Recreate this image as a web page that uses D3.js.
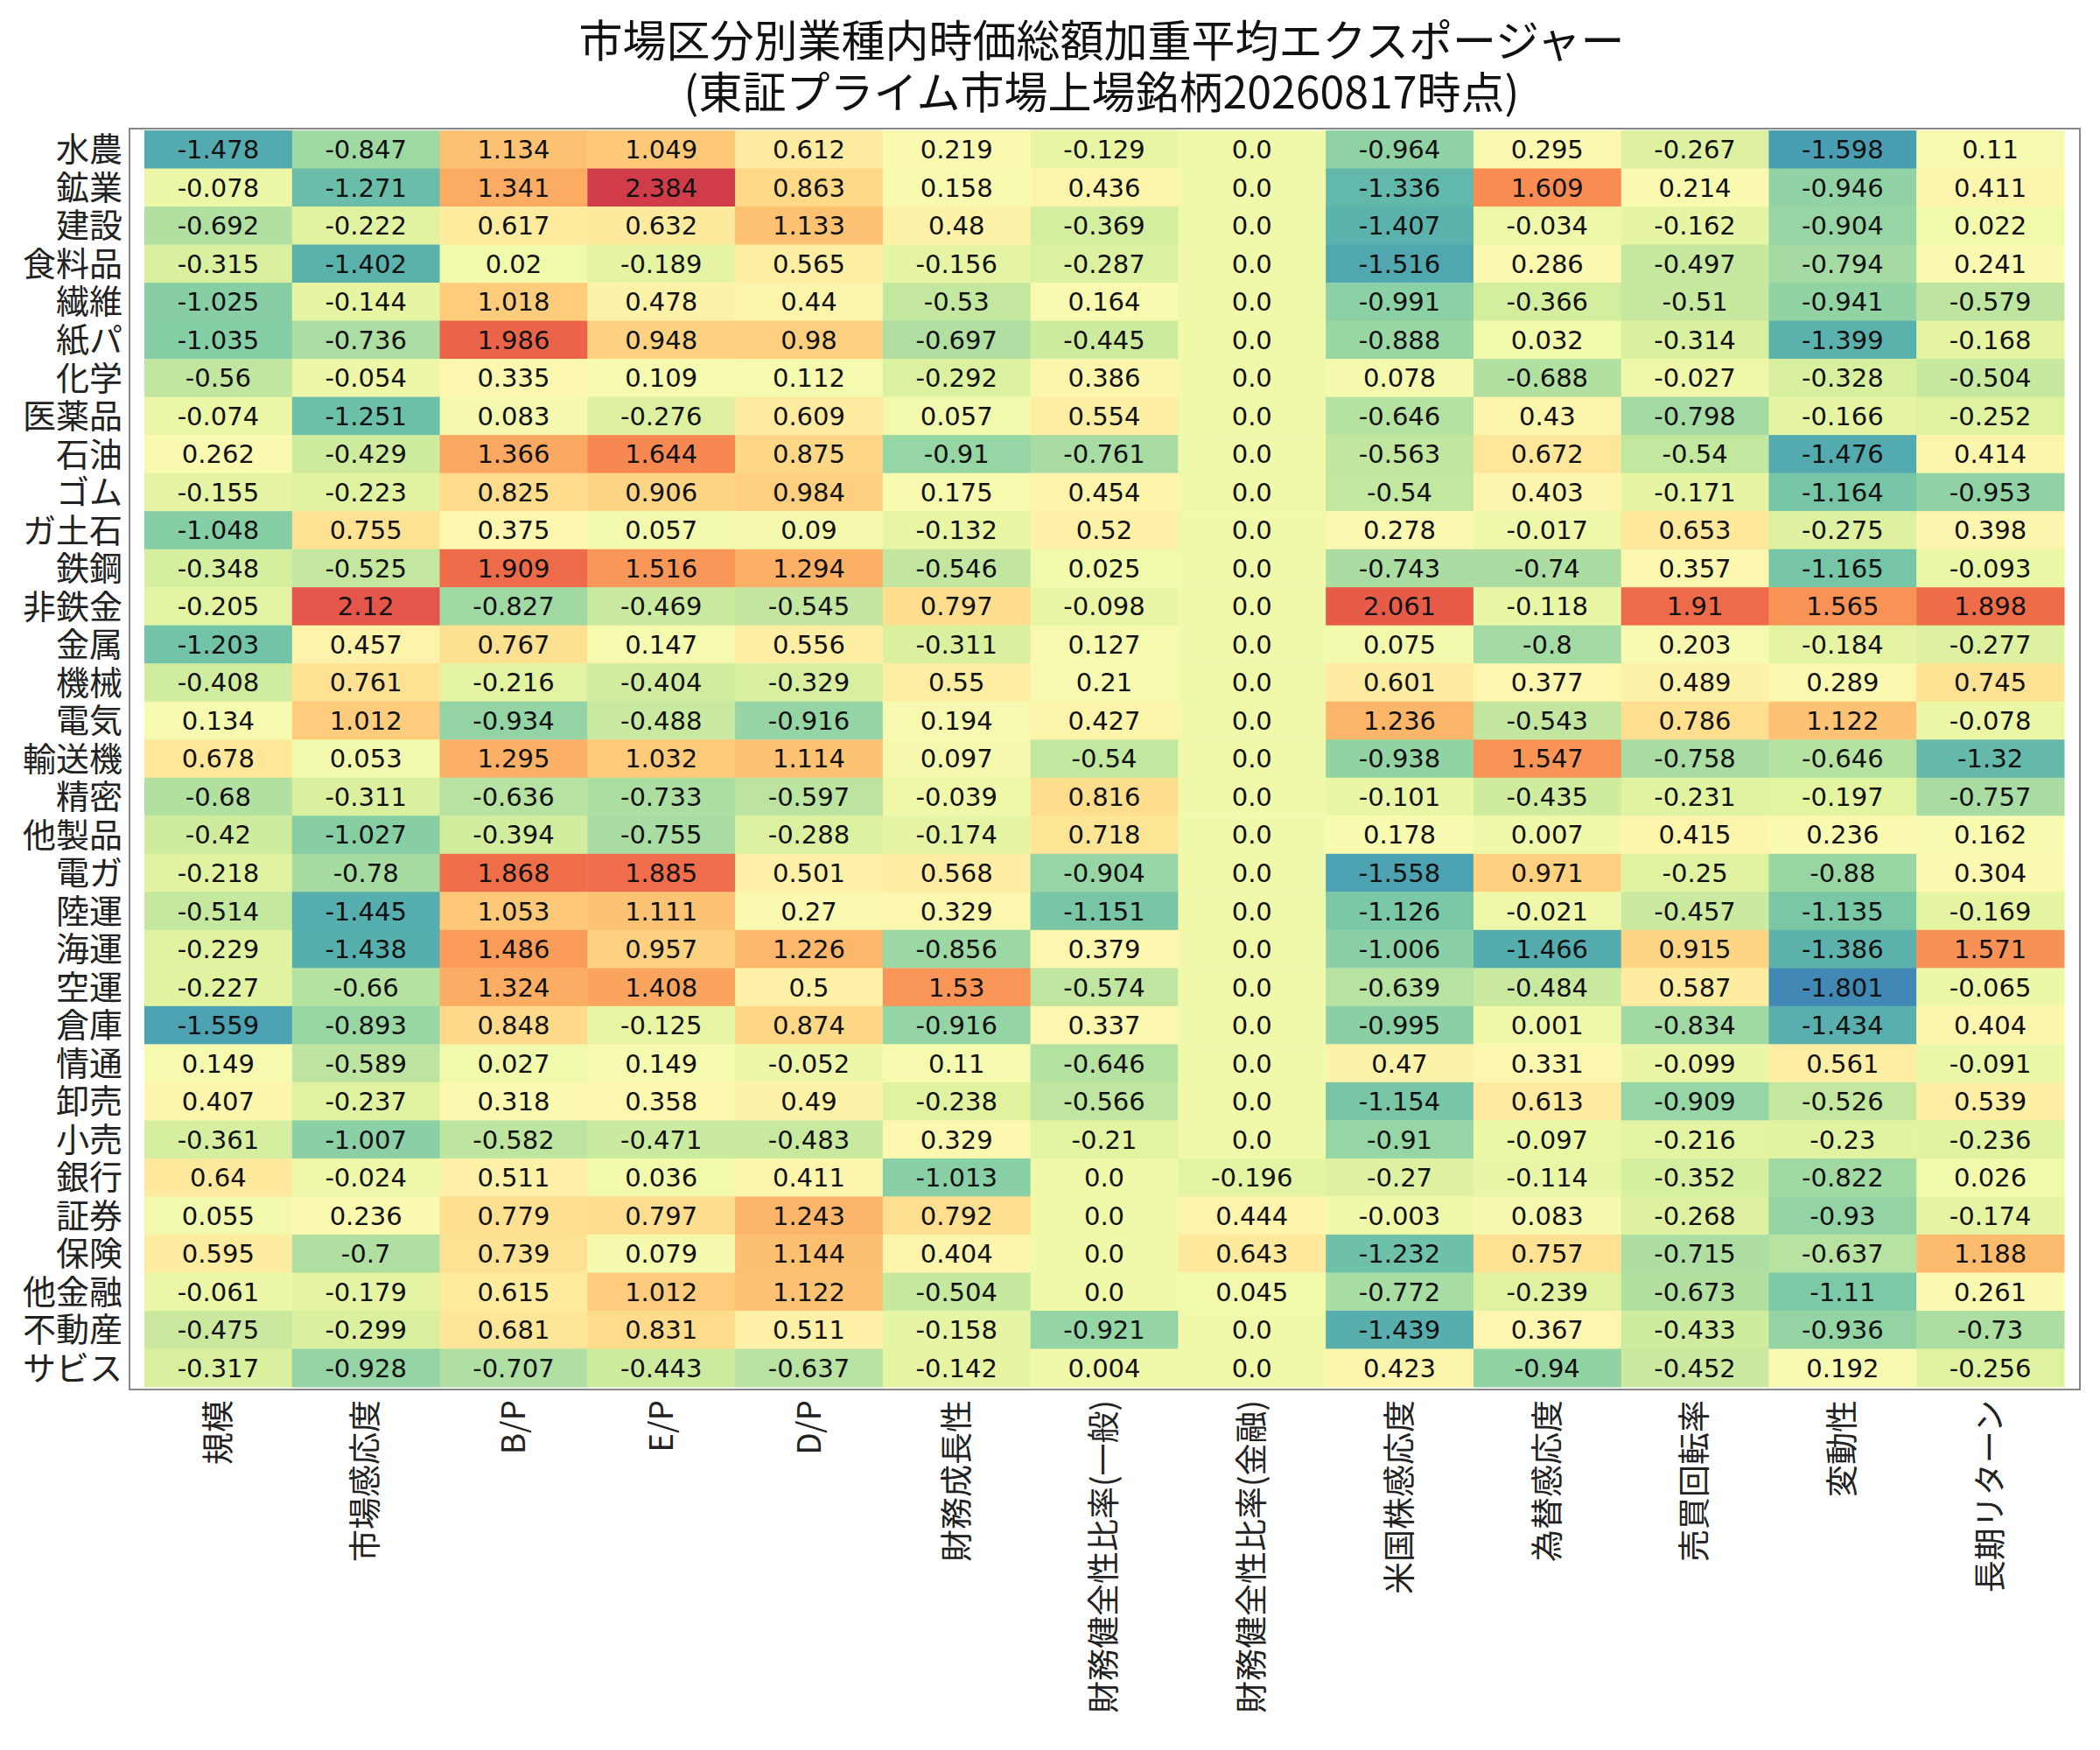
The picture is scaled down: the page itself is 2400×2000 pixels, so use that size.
<!DOCTYPE html>
<html><head><meta charset="utf-8">
<script src="https://cdn.jsdelivr.net/npm/d3@7"></script>
<style>body{margin:0;background:#fff}</style>
</head><body><div id="chart"></div>
<script>
var industries = ["水農","鉱業","建設","食料品","繊維","紙パ","化学","医薬品","石油","ゴム","ガ土石","鉄鋼","非鉄金","金属","機械","電気","輸送機","精密","他製品","電ガ","陸運","海運","空運","倉庫","情通","卸売","小売","銀行","証券","保険","他金融","不動産","サビス"];
var factors = ["規模","市場感応度","B/P","E/P","D/P","財務成長性","財務健全性比率(一般)","財務健全性比率(金融)","米国株感応度","為替感応度","売買回転率","変動性","長期リターン"];
var values = [
[-1.478,-0.847,1.134,1.049,0.612,0.219,-0.129,0.0,-0.964,0.295,-0.267,-1.598,0.11],
[-0.078,-1.271,1.341,2.384,0.863,0.158,0.436,0.0,-1.336,1.609,0.214,-0.946,0.411],
[-0.692,-0.222,0.617,0.632,1.133,0.48,-0.369,0.0,-1.407,-0.034,-0.162,-0.904,0.022],
[-0.315,-1.402,0.02,-0.189,0.565,-0.156,-0.287,0.0,-1.516,0.286,-0.497,-0.794,0.241],
[-1.025,-0.144,1.018,0.478,0.44,-0.53,0.164,0.0,-0.991,-0.366,-0.51,-0.941,-0.579],
[-1.035,-0.736,1.986,0.948,0.98,-0.697,-0.445,0.0,-0.888,0.032,-0.314,-1.399,-0.168],
[-0.56,-0.054,0.335,0.109,0.112,-0.292,0.386,0.0,0.078,-0.688,-0.027,-0.328,-0.504],
[-0.074,-1.251,0.083,-0.276,0.609,0.057,0.554,0.0,-0.646,0.43,-0.798,-0.166,-0.252],
[0.262,-0.429,1.366,1.644,0.875,-0.91,-0.761,0.0,-0.563,0.672,-0.54,-1.476,0.414],
[-0.155,-0.223,0.825,0.906,0.984,0.175,0.454,0.0,-0.54,0.403,-0.171,-1.164,-0.953],
[-1.048,0.755,0.375,0.057,0.09,-0.132,0.52,0.0,0.278,-0.017,0.653,-0.275,0.398],
[-0.348,-0.525,1.909,1.516,1.294,-0.546,0.025,0.0,-0.743,-0.74,0.357,-1.165,-0.093],
[-0.205,2.12,-0.827,-0.469,-0.545,0.797,-0.098,0.0,2.061,-0.118,1.91,1.565,1.898],
[-1.203,0.457,0.767,0.147,0.556,-0.311,0.127,0.0,0.075,-0.8,0.203,-0.184,-0.277],
[-0.408,0.761,-0.216,-0.404,-0.329,0.55,0.21,0.0,0.601,0.377,0.489,0.289,0.745],
[0.134,1.012,-0.934,-0.488,-0.916,0.194,0.427,0.0,1.236,-0.543,0.786,1.122,-0.078],
[0.678,0.053,1.295,1.032,1.114,0.097,-0.54,0.0,-0.938,1.547,-0.758,-0.646,-1.32],
[-0.68,-0.311,-0.636,-0.733,-0.597,-0.039,0.816,0.0,-0.101,-0.435,-0.231,-0.197,-0.757],
[-0.42,-1.027,-0.394,-0.755,-0.288,-0.174,0.718,0.0,0.178,0.007,0.415,0.236,0.162],
[-0.218,-0.78,1.868,1.885,0.501,0.568,-0.904,0.0,-1.558,0.971,-0.25,-0.88,0.304],
[-0.514,-1.445,1.053,1.111,0.27,0.329,-1.151,0.0,-1.126,-0.021,-0.457,-1.135,-0.169],
[-0.229,-1.438,1.486,0.957,1.226,-0.856,0.379,0.0,-1.006,-1.466,0.915,-1.386,1.571],
[-0.227,-0.66,1.324,1.408,0.5,1.53,-0.574,0.0,-0.639,-0.484,0.587,-1.801,-0.065],
[-1.559,-0.893,0.848,-0.125,0.874,-0.916,0.337,0.0,-0.995,0.001,-0.834,-1.434,0.404],
[0.149,-0.589,0.027,0.149,-0.052,0.11,-0.646,0.0,0.47,0.331,-0.099,0.561,-0.091],
[0.407,-0.237,0.318,0.358,0.49,-0.238,-0.566,0.0,-1.154,0.613,-0.909,-0.526,0.539],
[-0.361,-1.007,-0.582,-0.471,-0.483,0.329,-0.21,0.0,-0.91,-0.097,-0.216,-0.23,-0.236],
[0.64,-0.024,0.511,0.036,0.411,-1.013,0.0,-0.196,-0.27,-0.114,-0.352,-0.822,0.026],
[0.055,0.236,0.779,0.797,1.243,0.792,0.0,0.444,-0.003,0.083,-0.268,-0.93,-0.174],
[0.595,-0.7,0.739,0.079,1.144,0.404,0.0,0.643,-1.232,0.757,-0.715,-0.637,1.188],
[-0.061,-0.179,0.615,1.012,1.122,-0.504,0.0,0.045,-0.772,-0.239,-0.673,-1.11,0.261],
[-0.475,-0.299,0.681,0.831,0.511,-0.158,-0.921,0.0,-1.439,0.367,-0.433,-0.936,-0.73],
[-0.317,-0.928,-0.707,-0.443,-0.637,-0.142,0.004,0.0,0.423,-0.94,-0.452,0.192,-0.256]
];

var W = 2400, H = 2000;
var box = {left: 148, right: 2377, top: 147, bottom: 1588};
var svg = d3.select("#chart").append("svg").attr("width", W).attr("height", H);

var x = d3.scaleBand().domain(factors).range([165, 2359]);
var y = d3.scaleBand().domain(industries).range([149, 1585]);

var all = values.flat();
var vmin = d3.min(all), vmax = d3.max(all);
var color = function(v) { return d3.interpolateSpectral(0.9 - 0.8 * (v - vmin) / (vmax - vmin)); };

var cells = [];
values.forEach(function(row, i) {
  row.forEach(function(v, j) { cells.push({r: industries[i], c: factors[j], v: v}); });
});

svg.append("rect").attr("x", box.left).attr("y", box.top)
  .attr("width", box.right - box.left).attr("height", box.bottom - box.top)
  .attr("fill", "none").attr("stroke", "#888").attr("stroke-width", 2);

svg.selectAll("rect.cell").data(cells).enter().append("rect")
  .attr("class", "cell")
  .attr("x", function(d) { return x(d.c); })
  .attr("y", function(d) { return y(d.r); })
  .attr("width", x.bandwidth() + 0.5)
  .attr("height", y.bandwidth() + 0.5)
  .attr("fill", function(d) { return color(d.v); });

svg.selectAll("text.val").data(cells).enter().append("text")
  .attr("class", "val")
  .attr("x", function(d) { return x(d.c) + x.bandwidth() / 2; })
  .attr("y", function(d) { return y(d.r) + y.bandwidth() / 2; })
  .attr("dy", "0.36em")
  .attr("text-anchor", "middle")
  .style("font-family", "DejaVu Sans")
  .style("font-size", "29px")
  .style("fill", "#111")
  .text(function(d) { return d.v === 0 ? "0.0" : String(d.v); });

// y labels
svg.selectAll("text.ylab").data(industries).enter().append("text")
  .attr("x", 140)
  .attr("y", function(d) { return y(d) + y.bandwidth() / 2; })
  .attr("dy", "0.36em")
  .attr("text-anchor", "end")
  .style("font-family", "Noto Sans CJK JP")
  .style("font-size", "38px")
  .style("fill", "#222")
  .text(function(d) { return d; });

// x labels
svg.selectAll("text.xlab").data(factors).enter().append("text")
  .attr("transform", function(d) { return "translate(" + (x(d) + x.bandwidth() / 2) + ",1600) rotate(-90)"; })
  .attr("dy", "0.36em")
  .attr("text-anchor", "end")
  .style("font-family", "Noto Sans CJK JP")
  .style("font-size", "37px")
  .style("fill", "#222")
  .text(function(d) { return d; });

// title
var title = svg.append("text").attr("x", 1259).attr("text-anchor", "middle")
  .style("font-family", "Noto Sans CJK JP").style("font-size", "50px").style("fill", "#111");
title.append("tspan").attr("x", 1259).attr("y", 65).text("市場区分別業種内時価総額加重平均エクスポージャー");
title.append("tspan").attr("x", 1259).attr("y", 124).text("(東証プライム市場上場銘柄20260817時点)");
</script>
</body></html>
